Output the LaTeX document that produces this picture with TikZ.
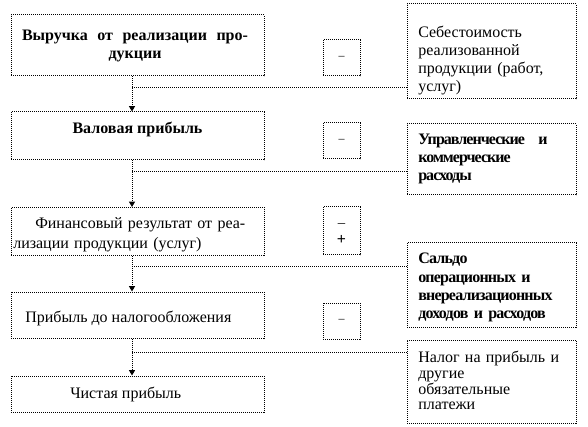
\documentclass[tikz,border=0pt]{standalone}
\usepackage{fontspec}
\setmainfont{Liberation Serif}
\usetikzlibrary{arrows.meta}
\begin{document}
\begin{tikzpicture}[x=0.75pt,y=-0.75pt,
	box/.style={draw,line width=0.75pt,dash pattern=on 0.75pt off 0.75pt,inner sep=0pt},
	conn/.style={line width=0.75pt,dash pattern=on 0.75pt off 0.75pt},
	arr/.style={conn,-{Triangle[length=4pt,width=4.5pt]}},
	txt/.style={inner sep=0pt,font=\fontsize{12pt}{13.5pt}\selectfont}]
	\useasboundingbox (0,0) rectangle (588,427);
	% Left column
	\node [box,minimum width=189.75pt,minimum height=45.75pt] (b1) at (137.5,45.5) {};
	\node [box,minimum width=189.75pt,minimum height=36pt] (b2) at (137.5,136) {};
	\node [box,minimum width=189.75pt,minimum height=36pt] (b3) at (137.5,231.5) {};
	\node [box,minimum width=189.75pt,minimum height=34.5pt] (b4) at (137.5,315) {};
	\node [box,minimum width=189.75pt,minimum height=27pt] (b5) at (137.5,394) {};
	\node [txt,anchor=north,text width=169.5pt,align=center,font=\fontsize{12pt}{13.5pt}\selectfont\bfseries] (t1) at (135,30) {Выручка\hfill от\hfill реализации\hfill про-\\дукции};
	\node [txt,anchor=north,font=\fontsize{12pt}{13.5pt}\selectfont\bfseries] (t2) at (137.5,122) {Валовая прибыль};
	\node [txt,anchor=north west,text width=186.75pt,align=left,font=\fontsize{12pt}{15pt}\selectfont] (t3) at (13,217) {\hspace*{16.5pt}Финансовый результат от реа-\\лизации продукции (услуг)};
	\node [txt,anchor=north west] (t4) at (25,311) {Прибыль до налогообложения};
	\node [txt,anchor=north west] (t5) at (70,387) {Чистая прибыль};
	% Signs
	\node [box,minimum width=27.75pt,minimum height=27pt,font=\small] (m1) at (341.5,58) {–};
	\node [box,minimum width=27.75pt,minimum height=27pt,font=\small] (m2) at (341.5,141) {–};
	\node [box,minimum width=27.75pt,minimum height=36pt] (m3) at (341.5,231) {};
	\node [inner sep=0pt,align=center,font=\fontsize{11pt}{12.75pt}\selectfont] (p3) at (341.5,234) {–\\\textbf{\large +}};
	\node [box,minimum width=27.75pt,minimum height=27pt,font=\small] (m4) at (341.5,321) {–};
	% Right column
	\node [box,minimum width=126.75pt,minimum height=71.25pt] (r1) at (491.5,51.5) {};
	\node [box,minimum width=126.75pt,minimum height=53.25pt] (r2) at (491.5,159.5) {};
	\node [box,minimum width=126.75pt,minimum height=63pt] (r3) at (491.5,285) {};
	\node [box,minimum width=126.75pt,minimum height=62.25pt] (r4) at (491.5,381.5) {};
	\node [txt,anchor=north west,text width=112.5pt,align=left] (s1) at (418,26) {Себестоимость\\реализованной\\продукции (работ,\\услуг)};
	\node [txt,anchor=north west,text width=97pt,align=left,font=\fontsize{12pt}{13.5pt}\selectfont\bfseries\addfontfeature{LetterSpace=-6}] (s2) at (418,134) {Управленческие \hfill и\\коммерческие\\расходы};
	\node [txt,anchor=north west,text width=112.5pt,align=left,font=\fontsize{12pt}{13.75pt}\selectfont\bfseries\addfontfeature{LetterSpace=-5}] (s3) at (418,253) {Сальдо\\операционных и\\внереализационных\\доходов и расходов};
	\node [txt,anchor=north west,text width=112.5pt,align=left,font=\fontsize{12pt}{11.75pt}\selectfont] (s4) at (418,351) {Налог на прибыль и\\другие\\обязательные\\платежи};
	% Connectors
	\coordinate (j1) at (132,88); \coordinate (j2) at (132,172); \coordinate (j3) at (132,267); \coordinate (j4) at (132,352);
	\draw [arr] (b1.south -| j1) -- (b2.north -| j1); \draw [conn] (j1) -- (r1.west |- j1);
	\draw [arr] (b2.south -| j2) -- (b3.north -| j2); \draw [conn] (j2) -- (r2.west |- j2);
	\draw [arr] (b3.south -| j3) -- (b4.north -| j3); \draw [conn] (j3) -- (r3.west |- j3);
	\draw [arr] (b4.south -| j4) -- (b5.north -| j4); \draw [conn] (j4) -- (r4.west |- j4);
\end{tikzpicture}
\end{document}
